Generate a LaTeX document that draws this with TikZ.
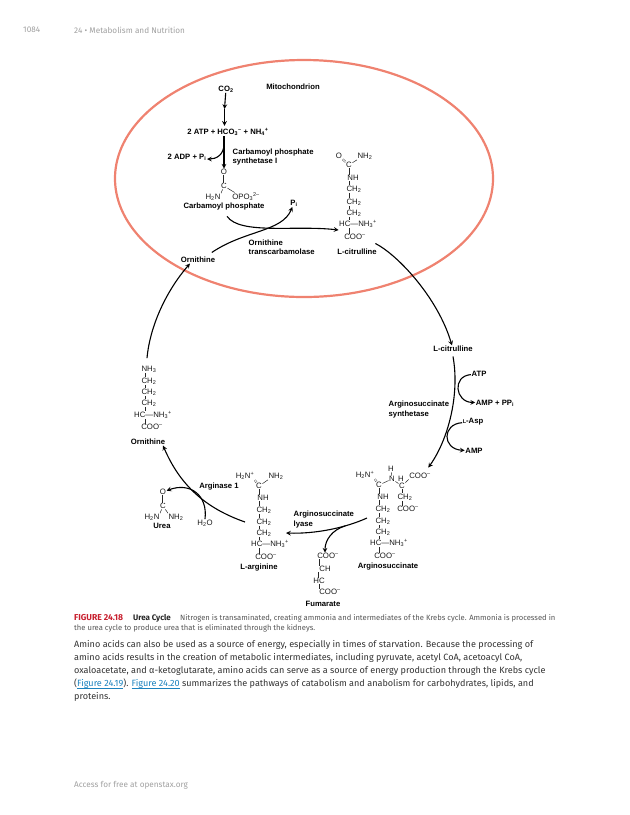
\documentclass[tikz,border=0pt]{standalone}
\usepackage{fontspec}
\setmainfont{Liberation Sans}
\newfontfamily\pagefont{Fira Sans}
\usepackage{xcolor}
\usetikzlibrary{shapes.geometric, arrows}
\definecolor{mitored}{HTML}{EF8270}
\definecolor{figred}{HTML}{C8202F}
\definecolor{linkblue}{HTML}{1C82BE}
\definecolor{pagegray}{HTML}{A0A0A0}
\definecolor{captext}{HTML}{555555}
\definecolor{bodytext}{HTML}{333333}
\newcommand{\sbs}[1]{\textsubscript{#1}}
\newcommand{\sps}[1]{\textsuperscript{#1}}
\newcommand{\pagelink}[1]{\textcolor{linkblue}{\underline{\smash{#1}}}}
\tikzstyle{lab} = [font=\bfseries\fontsize{7.7}{9.3}\selectfont, inner sep=0.5pt, align=left]
\tikzstyle{atom} = [font=\fontsize{7.8}{9}\selectfont, inner sep=0.4pt, text=black!90]
\tikzstyle{arrow} = [line width=1.1pt,->,>=stealth]
\tikzstyle{bond} = [line width=0.5pt, black!85]
\tikzstyle{bond2} = [line width=0.4pt, black!85, double, double distance=1pt]
\tikzstyle{pageline} = [font=\pagefont\fontsize{9.08}{11}\selectfont, anchor=west, inner sep=0pt, text=bodytext]
\tikzstyle{capline} = [font=\pagefont\fontsize{7.62}{9}\selectfont, anchor=west, inner sep=0pt, text=captext]
\tikzstyle{furniture} = [font=\pagefont\fontsize{8.2}{9}\selectfont, anchor=west, inner sep=0pt, text=pagegray]
\begin{document}
\begin{tikzpicture}[x=1pt,y=-1pt]
        \useasboundingbox (0,0) rectangle (630,815);
        \node (mito) [ellipse, draw=mitored, line width=2.2pt, minimum width=378pt, minimum height=237pt, inner sep=0pt] at (304,178.5) {};

        % page furniture
        \node (pageno) [furniture] at (23,30) {1084};
        \node (chapter) [furniture] at (74,30) {24 • Metabolism and Nutrition};
        \node (access) [furniture] at (74,785) {Access for free at openstax.org};

        % mitochondrion
        \node (co2) [lab] at (226,89) {CO\sbs{2}};
        \node (mitolab) [lab] at (293,87) {Mitochondrion};
        \node (atp) [lab] at (228,132) {2 ATP + HCO\sbs{3}\sps{--} + NH\sbs{4}\sps{+}};
        \node (adp) [lab] at (187,157) {2 ADP + P\sbs{i}};
        \node (cps) [lab, anchor=west] at (232,157) {Carbamoyl phosphate\\synthetase I};
        \node (capo) [atom] at (224,172) {O};
        \node (capc) [atom] at (224,186) {C};
        \node (caph) [atom] at (213,197) {H\sbs{2}N};
        \node (capp) [atom] at (246,197) {OPO\sbs{3}\sps{2--}};
        \node (caplab) [lab] at (224,207) {Carbamoyl phosphate};
        \node (pi) [lab] at (294,203) {P\sbs{i}};
        \node (ornup) [lab] at (198,260) {Ornithine};
        \node (otc) [lab, anchor=west] at (248,247.5) {Ornithine\\transcarbamolase};
        \coordinate (co2mid) at (224.5,109);

        % citrulline
        \node (cito) [atom] at (339,156) {O};
        \node (citn) [atom] at (365,156) {NH\sbs{2}};
        \node (citc) [atom] at (349,165) {C};
        \node (citnh) [atom] at (353,178) {NH};
        \node (cita) [atom] at (354,189) {CH\sbs{2}};
        \node (citb) [atom] at (354,202) {CH\sbs{2}};
        \node (citd) [atom] at (354,213) {CH\sbs{2}};
        \node (cite) [atom] at (358,224) {HC---NH\sbs{3}\sps{+}};
        \node (citf) [atom] at (355,237) {COO\sps{--}};
        \node (citlab) [lab] at (357,252) {L-citrulline};

        % right side
        \node (citlow) [lab] at (453,349) {L-citrulline};
        \node (atpb) [lab] at (479,374) {ATP};
        \node (amppp) [lab] at (495,403) {AMP + PP\sbs{i}};
        \node (synth) [lab, anchor=west] at (388,409.5) {Arginosuccinate\\synthetase};
        \node (asp) [lab] at (473,422) {{\fontsize{5.5}{6}\selectfont L}-Asp};
        \node (amp) [lab] at (474,451) {AMP};

        % arginosuccinate
        \node (assn) [atom] at (365,475) {H\sbs{2}N\sps{+}};
        \node (assh) [atom] at (391,469) {H};
        \node (assm) [atom] at (392,479) {N};
        \node (assi) [atom] at (401,479) {H};
        \node (assk) [atom] at (420,476) {COO\sps{--}};
        \node (assc) [atom] at (379,485) {C};
        \node (assj) [atom] at (402,486) {C};
        \node (assnh) [atom] at (383,497) {NH};
        \node (assp) [atom] at (405,497) {CH\sbs{2}};
        \node (assa) [atom] at (383,509) {CH\sbs{2}};
        \node (assq) [atom] at (408,509) {COO\sps{--}};
        \node (assb) [atom] at (383,521) {CH\sbs{2}};
        \node (assd) [atom] at (383,532) {CH\sbs{2}};
        \node (asse) [atom] at (389,543) {HC---NH\sbs{3}\sps{+}};
        \node (assf) [atom] at (385,556) {COO\sps{--}};
        \node (asslab) [lab] at (388,567) {Arginosuccinate};

        % fumarate
        \node (lyase) [lab, anchor=west] at (293,519.5) {Arginosuccinate\\lyase};
        \node (fuma) [atom] at (328,556) {COO\sps{--}};
        \node (fumb) [atom] at (325,569) {CH};
        \node (fumc) [atom] at (319,581) {HC};
        \node (fumd) [atom] at (330,592) {COO\sps{--}};
        \node (fumlab) [lab] at (323,604) {Fumarate};

        % arginine
        \node (argn) [atom] at (245,476) {H\sbs{2}N\sps{+}};
        \node (argm) [atom] at (276,476) {NH\sbs{2}};
        \node (argc) [atom] at (259,486) {C};
        \node (argnh) [atom] at (263,498) {NH};
        \node (arga) [atom] at (264,510) {CH\sbs{2}};
        \node (argb) [atom] at (264,522) {CH\sbs{2}};
        \node (argd) [atom] at (264,533) {CH\sbs{2}};
        \node (arge) [atom] at (270,544) {HC---NH\sbs{3}\sps{+}};
        \node (argf) [atom] at (266,557) {COO\sps{--}};
        \node (arglab) [lab] at (259,568) {L-arginine};

        % urea
        \node (arginase) [lab] at (219,487) {Arginase 1};
        \node (ureao) [atom] at (163,492) {O};
        \node (ureac) [atom] at (163,506) {C};
        \node (ureal) [atom] at (152,517) {H\sbs{2}N};
        \node (urear) [atom] at (176,517) {NH\sbs{2}};
        \node (urealab) [lab] at (162,526) {Urea};
        \node (water) [atom] at (205,523) {H\sbs{2}O};

        % ornithine
        \node (orna) [atom] at (149,369) {NH\sbs{3}};
        \node (ornb) [atom] at (149,381) {CH\sbs{2}};
        \node (ornc) [atom] at (149,392) {CH\sbs{2}};
        \node (ornd) [atom] at (149,403) {CH\sbs{2}};
        \node (orne) [atom] at (153,415) {HC---NH\sbs{3}\sps{+}};
        \node (ornf) [atom] at (152,427) {COO\sps{--}};
        \node (ornlab) [lab] at (148,442) {Ornithine};

        % caption and text
        \node (capa) [capline] at (74,618) {\makebox[59pt][l]{\textcolor{figred}{\bfseries\fontsize{8.6}{9}\selectfont FIGURE 24.18}}\makebox[47pt][l]{\textcolor{black!85}{\bfseries\fontsize{8}{9}\selectfont Urea Cycle}}Nitrogen is transaminated, creating ammonia and intermediates of the Krebs cycle. Ammonia is processed in};
        \node (capb) [capline] at (74,628) {the urea cycle to produce urea that is eliminated through the kidneys.};
        \node (bodya) [pageline] at (74,645) {Amino acids can also be used as a source of energy, especially in times of starvation. Because the processing of};
        \node (bodyb) [pageline] at (74,658) {amino acids results in the creation of metabolic intermediates, including pyruvate, acetyl CoA, acetoacyl CoA,};
        \node (bodyc) [pageline] at (74,671) {oxaloacetate, and α-ketoglutarate, amino acids can serve as a source of energy production through the Krebs cycle};
        \node (bodyd) [pageline] at (74,684) {(\pagelink{Figure 24.19}). \pagelink{Figure 24.20} summarizes the pathways of catabolism and anabolism for carbohydrates, lipids, and};
        \node (bodye) [pageline] at (74,697) {proteins.};

        % bonds
        \draw [bond2] (capo) -- (capc);
        \draw [bond] (capc) -- (caph.north east);
        \draw [bond] (capc) -- ([xshift=3pt]capp.north west);
        \draw [bond2] (cito) -- (citc);
        \draw [bond] (citc) -- (citn.south west);
        \draw [bond] (citc) -- (citnh.north -| citc) (citnh.south -| citc) -- (cita.north -| citc) (cita.south -| citc) -- (citb.north -| citc) (citb.south -| citc) -- (citd.north -| citc) (citd.south -| citc) -- (cite.north -| citc) (cite.south -| citc) -- (citf.north -| citc);
        \draw [bond2] (assn.south east) -- (assc);
        \draw [bond] (assc) -- (assm);
        \draw [bond] (assm) -- (assh);
        \draw [bond] (assm) -- (assj);
        \draw [bond] (assj) -- (assk.south west);
        \draw [bond] (assj) -- (assp.north -| assj) (assp.south -| assj) -- (assq.north -| assj);
        \draw [bond] (assc) -- (assnh.north -| assc) (assnh.south -| assc) -- (assa.north -| assc) (assa.south -| assc) -- (assb.north -| assc) (assb.south -| assc) -- (assd.north -| assc) (assd.south -| assc) -- (asse.north -| assc) (asse.south -| assc) -- (assf.north -| assc);
        \draw [bond] (fuma.south -| fumc) -- (fumb.north -| fumc);
        \draw [bond2] (fumb.south -| fumc) -- (fumc.north);
        \draw [bond] (fumc.south) -- (fumd.north -| fumc);
        \draw [bond2] (argn.south east) -- (argc);
        \draw [bond] (argc) -- (argm.south west);
        \draw [bond] (argc) -- (argnh.north -| argc) (argnh.south -| argc) -- (arga.north -| argc) (arga.south -| argc) -- (argb.north -| argc) (argb.south -| argc) -- (argd.north -| argc) (argd.south -| argc) -- (arge.north -| argc) (arge.south -| argc) -- (argf.north -| argc);
        \draw [bond2] (ureao) -- (ureac);
        \draw [bond] (ureac) -- (ureal.north east);
        \draw [bond] (ureac) -- (urear.north west);
        \draw [bond] ([xshift=-3.5pt]orna.south) -- ([xshift=-3.5pt]ornb.north);
        \draw [bond] ([xshift=-3.5pt]ornb.south) -- ([xshift=-3.5pt]ornc.north);
        \draw [bond] ([xshift=-3.5pt]ornc.south) -- ([xshift=-3.5pt]ornd.north);
        \draw [bond] ([xshift=-3.5pt]ornd.south) -- ([xshift=-3.5pt]orne.north -| ornd);
        \draw [bond] ([xshift=-3.5pt]orne.south -| ornd) -- ([xshift=-3.5pt]ornf.north -| ornd);

        % arrows
        \draw [arrow] (co2) -- (co2mid);
        \draw [arrow] (co2mid) -- ([yshift=2pt]atp.north -| co2mid);
        \draw [arrow] (atp.south -| capo) -- (capo);
        \draw [arrow] (224,144) .. controls (224,155) and (216,159) .. ([yshift=-2pt]adp.east);
        \draw [arrow] (caplab.south) ++(3,5) .. controls (240,235) and (295,225) .. ([yshift=-6pt]cite.west);
        \draw [arrow] (ornup.north east) ++(-4,-4) .. controls (245,230) and (282,232) .. (pi);
        \draw [arrow] (citlab.north east) ++(-2,-5) .. controls (398,255) and (438,298) .. (citlow);
        \draw [arrow] (orna.north) ++(-2,-7) .. controls (150,325) and (167,290) .. ([xshift=-8pt]ornup.south);
        \draw [arrow] (citlow.south) ++(0,4) .. controls (460,395) and (448,440) .. ([shift={(-3,-5)}]assk.north east);
        \draw [arrow] (atpb) .. controls (452,376) and (455,402) .. (amppp);
        \draw [arrow] (asp) .. controls (442,424) and (442,449) .. (amp);
        \draw [arrow] (assb.west) ++(-8,-3) .. controls (345,528) and (315,534) .. coordinate[pos=.3] (fork) ([xshift=14pt]argd.east);
        \draw [arrow] (fork) .. controls (332,530) and (325,540) .. (fuma.north -| fumb);
        \draw [arrow] (argb.west) ++(-11,0) .. controls (205,508) and (180,485) .. ([xshift=15pt]ornlab.south);
        \draw [arrow] (water.north) .. controls (208,495) and (190,482) .. (ureao);
\end{tikzpicture}
\end{document}
